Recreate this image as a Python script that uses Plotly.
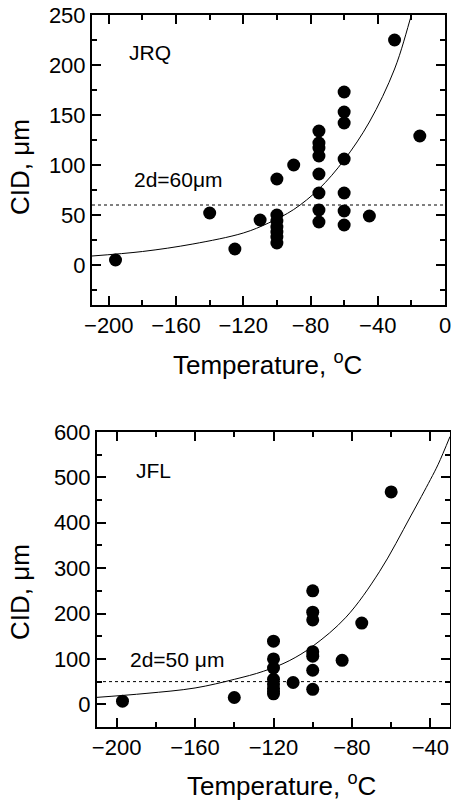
import plotly.graph_objects as go

# ---------------- data: JRQ (top panel) ----------------
jrq_temp = [-196, -140, -125, -110,
            -100, -100, -100, -100, -100, -100, -100,
            -90,
            -75, -75, -75, -75, -75, -75, -75, -75,
            -60, -60, -60, -60, -60, -60, -60,
            -45, -30, -15]
jrq_cid = [5, 52, 16, 45,
           86, 50, 44, 38, 33, 28, 22,
           100,
           134, 122, 117, 109, 91, 72, 55, 43,
           173, 153, 142, 106, 72, 54, 40,
           49, 225, 129]
jrq_fit_temp = [-210, -180, -150, -120, -105, -90, -75, -60, -45, -30, -20, -15]
jrq_fit_cid = [9, 13.5, 21, 32, 42, 55.5, 76, 105, 143, 196, 250, 280]
jrq_level = 60

# ---------------- data: JFL (bottom panel) ----------------
jfl_temp = [-197, -140,
            -120, -120, -120, -120, -120, -120, -120, -120,
            -110,
            -100, -100, -100, -100, -100, -100, -100,
            -85, -75, -60]
jfl_cid = [7, 15,
           139, 100, 80, 55, 45, 35, 28, 23,
           48,
           250, 203, 186, 116, 106, 75, 33,
           97, 179, 468]
jfl_fit_temp = [-211, -185, -160, -140, -125, -112, -100, -83, -66, -50, -40, -36, -30]
jfl_fit_cid = [15, 24, 36, 55, 73, 96, 128, 192, 292, 415, 495, 529, 590]
jfl_level = 50

W, H = 451, 801
FONT = "Liberation Sans, Arial, sans-serif"

fig = go.Figure()

def add_panel(xs, ys, fx, fy, level, xa, ya, xr):
    fig.add_trace(go.Scatter(x=fx, y=fy, mode="lines", line=dict(color="black", width=1, shape="spline", smoothing=1.0),
                             xaxis=xa, yaxis=ya, showlegend=False, hoverinfo="skip"))
    fig.add_trace(go.Scatter(x=xr, y=[level, level], mode="lines", line=dict(color="black", width=1, dash="dot"),
                             xaxis=xa, yaxis=ya, showlegend=False, hoverinfo="skip"))
    fig.add_trace(go.Scatter(x=xs, y=ys, mode="markers", marker=dict(color="black", size=13, line=dict(width=0)),
                             xaxis=xa, yaxis=ya, showlegend=False))

add_panel(jrq_temp, jrq_cid, jrq_fit_temp, jrq_fit_cid, jrq_level, "x", "y", [-210, 0])
add_panel(jfl_temp, jfl_cid, jfl_fit_temp, jfl_fit_cid, jfl_level, "x2", "y2", [-210, -30])

def axis_main(**kw):
    d = dict(showline=True, linecolor="black", linewidth=2, mirror="allticks",
             ticks="inside", ticklen=9, tickwidth=2, tickcolor="black",
             showgrid=False, zeroline=False, automargin=False, ticklabeloverflow="allow",
             tickfont=dict(family=FONT, size=22, color="black"),
             minor=dict(ticks="inside", ticklen=5, tickwidth=2, tickcolor="black", showgrid=False))
    d.update(kw)
    return d

dom_x1 = [92 / W, 445 / W]
dom_y1 = [1 - 305 / H, 1 - 15 / H]
dom_x2 = [97 / W, 450 / W]
dom_y2 = [1 - 727 / H, 1 - 432 / H]

xa1 = axis_main(domain=dom_x1, range=[-210, 0], tick0=-200, dtick=40, anchor="y")
xa1["minor"].update(dtick=20)
ya1 = axis_main(domain=dom_y1, range=[-40, 250], tick0=0, dtick=50, anchor="x")
ya1["minor"].update(dtick=25)
xa2 = axis_main(domain=dom_x2, range=[-210, -30], tick0=-200, dtick=40, anchor="y2")
xa2["minor"].update(dtick=20)
ya2 = axis_main(domain=dom_y2, range=[-50, 600], tick0=0, dtick=100, anchor="x2")
ya2["minor"].update(dtick=50)

title_font = dict(family=FONT, size=26, color="black")
label_font = dict(family=FONT, size=21, color="black")

annotations = [
    dict(x=-189, y=213, xref="x", yref="y", text="JRQ", showarrow=False, xanchor="left", yanchor="middle", font=label_font),
    dict(x=-186, y=86, xref="x", yref="y", text="2d=60μm", showarrow=False, xanchor="left", yanchor="middle", font=label_font),
    dict(x=-191, y=516, xref="x2", yref="y2", text="JFL", showarrow=False, xanchor="left", yanchor="middle", font=label_font),
    dict(x=-194, y=99, xref="x2", yref="y2", text="2d=50 μm", showarrow=False, xanchor="left", yanchor="middle", font=label_font),
    dict(x=267 / W, y=1 - 363 / H, xref="paper", yref="paper", text="Temperature, <sup>o</sup>C", showarrow=False,
         xanchor="center", yanchor="middle", font=title_font),
    dict(x=281 / W, y=1 - 784 / H, xref="paper", yref="paper", text="Temperature, <sup>o</sup>C", showarrow=False,
         xanchor="center", yanchor="middle", font=title_font),
    dict(x=20 / W, y=1 - 167 / H, xref="paper", yref="paper", text="CID, μm", showarrow=False, textangle=-90,
         xanchor="center", yanchor="middle", font=title_font),
    dict(x=20 / W, y=1 - 592 / H, xref="paper", yref="paper", text="CID, μm", showarrow=False, textangle=-90,
         xanchor="center", yanchor="middle", font=title_font),
]

fig.update_layout(template="none", width=W, height=H, margin=dict(l=0, r=0, t=0, b=0, pad=0),
                  paper_bgcolor="white", plot_bgcolor="white",
                  xaxis=xa1, yaxis=ya1, xaxis2=xa2, yaxis2=ya2,
                  annotations=annotations, showlegend=False)

fig.write_html("out.html")
